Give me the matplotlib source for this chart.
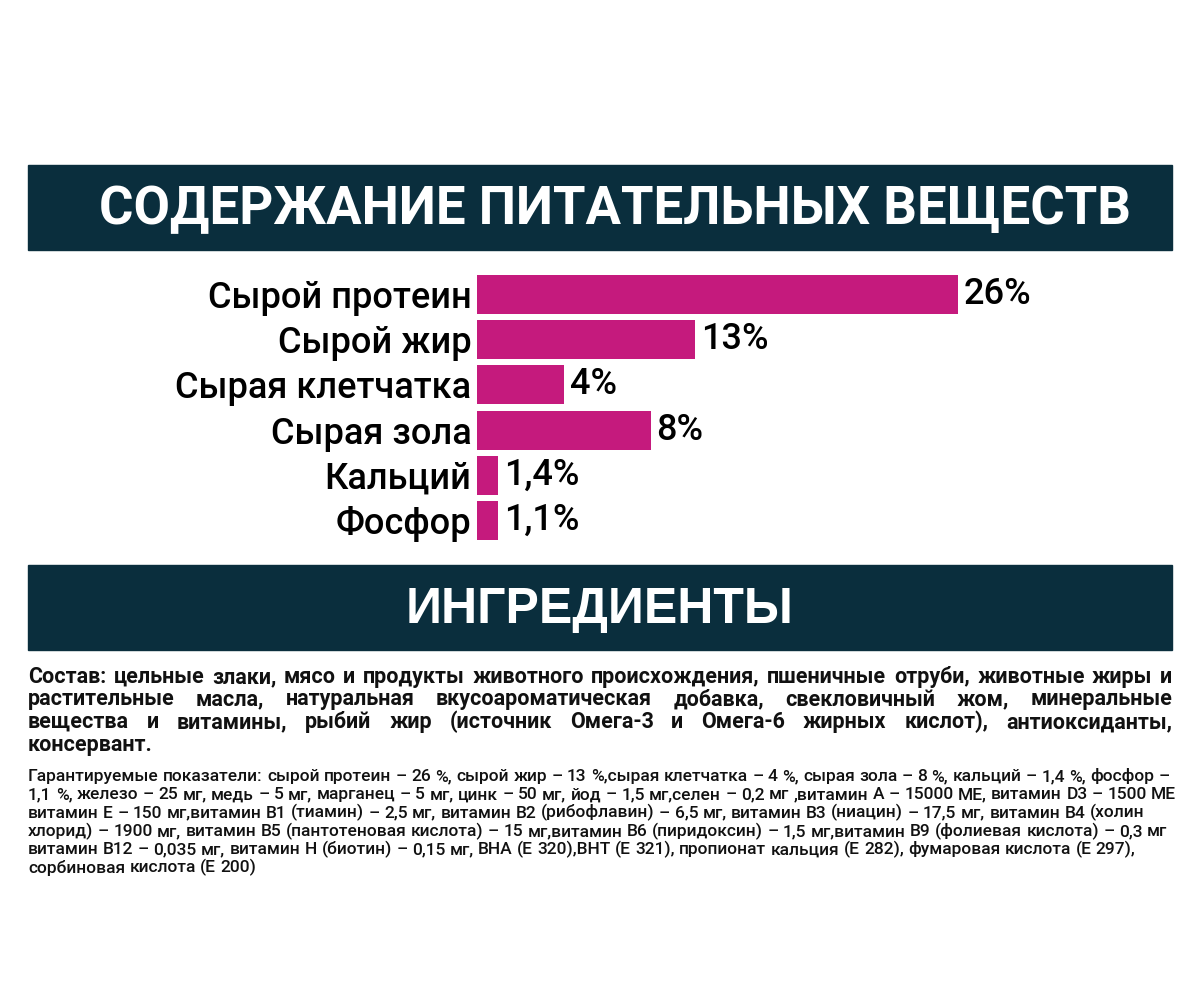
import matplotlib
matplotlib.use('Agg')
import matplotlib.pyplot as plt
from matplotlib.patches import Rectangle

# chart data
categories = ['Сырой протеин', 'Сырой жир', 'Сырая клетчатка', 'Сырая зола', 'Кальций', 'Фосфор']
value_labels = ['26%', '13%', '4%', '8%', '1,4%', '1,1%']
# drawn bar lengths (the picture does not draw them strictly to scale)
bar_lengths = [26, 11.8, 4.7, 9.4, 1.15, 1.15]

title_top = 'СОДЕРЖАНИЕ ПИТАТЕЛЬНЫХ ВЕЩЕСТВ'
title_bottom = 'ИНГРЕДИЕНТЫ'

composition_lines = [
    'Состав: цельные злаки, мясо и продукты животного происхождения, пшеничные отруби, животные жиры и',
    'растительные масла, натуральная вкусоароматическая добавка, свекловичный жом, минеральные',
    'вещества и витамины, рыбий жир (источник Омега-3 и Омега-6 жирных кислот), антиоксиданты,',
    'консервант.',
]
guaranteed_lines = [
    'Гарантируемые показатели: сырой протеин – 26 %, сырой жир – 13 %,сырая клетчатка – 4 %, сырая зола – 8 %, кальций – 1,4 %, фосфор –',
    '1,1 %, железо – 25 мг, медь – 5 мг, марганец – 5 мг, цинк – 50 мг, йод – 1,5 мг,селен – 0,2 мг ,витамин А – 15000 МЕ, витамин D3 – 1500 МЕ',
    'витамин Е – 150 мг,витамин В1 (тиамин) – 2,5 мг, витамин В2 (рибофлавин) – 6,5 мг, витамин В3 (ниацин) – 17,5 мг, витамин В4 (холин',
    'хлорид) – 1900 мг, витамин В5 (пантотеновая кислота) – 15 мг,витамин В6 (пиридоксин) – 1,5 мг,витамин В9 (фолиевая кислота) – 0,3 мг',
    'витамин В12 – 0,035 мг, витамин Н (биотин) – 0,15 мг, ВНА (Е 320),ВНТ (Е 321), пропионат кальция (Е 282), фумаровая кислота (Е 297),',
    'сорбиновая кислота (Е 200)',
]

BAND = '#0a2e3d'
BAR = '#c51a7d'
FONT = ['Roboto', 'DejaVu Sans']

fig = plt.figure(figsize=(12, 10), dpi=100)
fig.patch.set_facecolor('white')

# full-figure axes in pixel units (y downwards)
bg = fig.add_axes([0, 0, 1, 1])
bg.set_xlim(0, 1200)
bg.set_ylim(1000, 0)
bg.axis('off')

bg.add_patch(Rectangle((28, 165), 1144, 85, color=BAND))
bg.add_patch(Rectangle((28, 565), 1144, 85, color=BAND))

bg.text(615, 210, title_top, ha='center', va='center', color='white',
        fontsize=38, fontweight='bold', family=FONT)
bg.text(600, 610, title_bottom, ha='center', va='center', color='white',
        fontsize=36, fontweight='bold', family=['Liberation Sans', 'DejaVu Sans'])

# bar chart
ax = fig.add_axes([477 / 1200, 1 - 543 / 1000, 481 / 1200, 271 / 1000])
ypos = list(range(len(categories)))
ax.barh(ypos, bar_lengths, height=0.86, color=BAR)
ax.set_xlim(0, 26)
ax.set_ylim(len(categories) - 0.5, -0.5)
ax.set_xticks([])
ax.set_yticks(ypos, categories)
ax.tick_params(axis='y', length=0, pad=4, labelsize=26)
for lab in ax.get_yticklabels():
    lab.set_family(FONT)
    lab.set_fontweight('medium')
for s in ax.spines.values():
    s.set_visible(False)
for y, w, lab in zip(ypos, bar_lengths, value_labels):
    ax.annotate(lab, (w, y), xytext=(4, 0), textcoords='offset points',
                va='center', ha='left', fontsize=26, fontweight='medium', family=FONT)

renderer = fig.canvas.get_renderer()


def text_width(s, size, weight):
    t = bg.text(0, 0, s, fontsize=size, fontweight=weight, family=FONT)
    w = t.get_window_extent(renderer).width
    t.remove()
    return w


def put_line(line, y, x0, x1, size, weight, justify):
    words = line.split(' ')
    texts = [bg.text(0, y, w, fontsize=size, fontweight=weight, va='baseline', ha='left',
                     family=FONT, color='#111111') for w in words]
    widths = [t.get_window_extent(renderer).width for t in texts]
    space = text_width('a a', size, weight) - text_width('aa', size, weight)
    if justify and len(words) > 1:
        gap = (x1 - x0 - sum(widths)) / (len(words) - 1)
    else:
        gap = space
    x = x0
    for t, w in zip(texts, widths):
        t.set_x(x)
        x += w + gap


for i, line in enumerate(composition_lines):
    put_line(line, 683 + 22.5 * i, 28, 1172, 15.5, 'bold', i < len(composition_lines) - 1)

for i, line in enumerate(guaranteed_lines):
    put_line(line, 781 + 18.3 * i, 28, 1172, 12.5, 'medium', False)

fig.savefig('out.png', dpi=100, facecolor='white')
